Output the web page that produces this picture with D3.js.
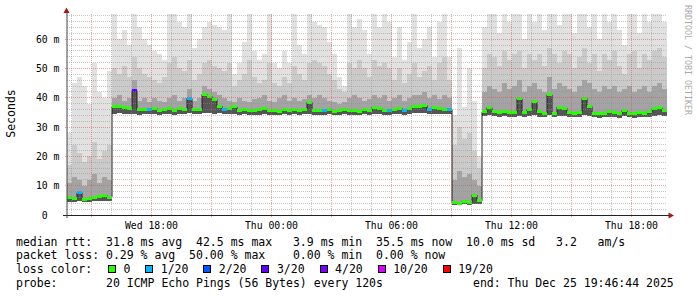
<!DOCTYPE html>
<html>
<head>
<meta charset="utf-8">
<script src="https://cdn.jsdelivr.net/npm/d3@7"></script>
<style>
html, body { margin: 0; padding: 0; background: #fff; }
svg { display: block; }
text { font-family: "DejaVu Sans Mono", monospace; }
</style>
</head>
<body>
<script>
// smokeping graph, 30 hours, one column = 15 minutes
const endTime = Date.UTC(2025, 11, 25, 19, 46, 44);
const spanMs = 30 * 3600 * 1000;
const stepMs = 15 * 60 * 1000;

// median rtt per column (ms)
const median = [
  6.0, 5.6, 7.6, 5.4, 5.7, 5.9, 6.3, 6.7, 6.1, 37.0,
  37.2, 36.6, 36.2, 42.5, 36.0, 35.9, 36.1, 36.4, 35.8, 36.0,
  36.3, 35.7, 36.2, 35.9, 39.8, 36.1, 36.0, 41.2, 40.5, 39.4,
  37.2, 36.0, 36.4, 36.9, 35.8, 36.0, 35.6, 35.5, 35.9, 36.2,
  35.6, 35.8, 35.4, 35.9, 35.6, 36.0, 35.5, 36.1, 38.4, 35.7,
  35.5, 35.6, 35.9, 35.4, 35.8, 36.0, 35.6, 35.7, 35.4, 35.9,
  35.6, 36.7, 36.3, 35.7, 35.6, 35.9, 36.5, 35.6, 36.2, 36.9,
  37.2, 37.4, 35.9, 36.6, 36.3, 35.9, 36.0, 4.3, 3.9, 4.6,
  4.4, 6.8, 4.8, 35.2, 36.6, 35.3, 35.0, 35.4, 34.9, 35.1,
  39.6, 35.0, 36.0, 38.6, 35.2, 34.8, 41.0, 34.6, 36.8, 36.4,
  35.0, 34.7, 35.0, 39.7, 37.0, 34.8, 34.5, 34.6, 35.2, 34.9,
  34.5, 35.6, 34.7, 34.6, 35.0, 34.6, 35.2, 36.2, 36.6, 35.5
];
// lost pings out of 20 per column
const loss = [
  0, 0, 1, 0, 0, 0, 0, 0, 0, 0,
  0, 0, 0, 3, 0, 0, 1, 0, 0, 0,
  0, 0, 0, 0, 1, 0, 0, 0, 0, 0,
  0, 1, 0, 0, 0, 0, 0, 0, 0, 0,
  0, 0, 0, 0, 0, 0, 0, 0, 0, 0,
  0, 1, 0, 0, 0, 0, 0, 0, 0, 0,
  0, 0, 0, 0, 1, 0, 0, 1, 0, 0,
  0, 0, 1, 0, 0, 0, 1, 0, 0, 0,
  0, 0, 0, 0, 0, 0, 0, 0, 0, 0,
  0, 0, 0, 0, 0, 0, 0, 0, 0, 0,
  0, 0, 0, 0, 0, 0, 0, 0, 0, 0,
  0, 0, 0, 0, 0, 0, 0, 0, 0, 0
];
// smoke: fastest ping, upper quartile, 90th pct, slowest ping (ms)
const pingMin = [
  4.6, 4.5, 4.8, 4.4, 4.5, 4.7, 4.8, 4.9, 4.7, 34.6,
  34.8, 34.5, 34.4, 34.6, 34.3, 34.4, 34.5, 34.6, 34.3, 34.4,
  34.6, 34.3, 34.5, 34.4, 34.7, 34.5, 34.4, 34.9, 34.8, 34.6,
  34.7, 34.4, 34.5, 34.6, 34.3, 34.4, 34.2, 34.2, 34.3, 34.5,
  34.2, 34.3, 34.1, 34.4, 34.2, 34.4, 34.2, 34.5, 34.6, 34.3,
  34.2, 34.2, 34.4, 34.1, 34.3, 34.4, 34.2, 34.3, 34.1, 34.4,
  34.2, 34.6, 34.5, 34.3, 34.2, 34.4, 34.6, 34.2, 34.5, 34.7,
  34.8, 34.9, 34.4, 34.6, 34.5, 34.4, 34.4, 3.5, 3.3, 3.6,
  3.5, 3.7, 3.6, 33.8, 34.1, 33.8, 33.6, 33.8, 33.5, 33.6,
  33.9, 33.5, 33.8, 34.0, 33.6, 33.4, 34.1, 33.3, 33.9, 33.8,
  33.5, 33.3, 33.5, 34.0, 33.8, 33.4, 33.2, 33.3, 33.6, 33.5,
  33.2, 33.7, 33.3, 33.2, 33.5, 33.3, 33.6, 33.9, 34.0, 33.7
];
const pingQ3 = [
  11, 13, 12, 10, 12, 14, 11, 13, 12, 40,
  41, 39, 40, 46, 39, 40, 38.5, 40, 39, 38.5,
  40, 41, 39, 40, 43, 39, 40, 44, 43, 42,
  41, 40, 39, 38.5, 40, 39, 38.5, 39.5, 40, 41,
  39, 38.5, 40, 41, 39, 40, 39, 39.5, 41, 40,
  41, 40, 39, 38.5, 38, 38.5, 40, 41, 40, 39,
  39.5, 41, 40, 41, 39, 40, 41, 39, 40, 41,
  41, 42, 40, 41, 39.5, 41, 40, 12, 15, 13,
  14, 12, 10, 42, 44, 43, 42, 45, 43, 44,
  46, 42, 44, 45, 43, 42, 47, 43, 45, 44,
  43, 42, 44, 46, 45, 43, 42, 44, 43, 44,
  42, 43, 44, 42, 43, 44, 42, 44, 45, 43
];
const pingP90 = [
  17, 24, 21, 18, 20, 25, 19, 22, 24, 50,
  48, 51, 47, 54, 50, 48, 47, 46, 45, 47,
  52, 54, 50, 49, 53, 46, 48, 52, 53, 51,
  50, 49, 52, 44, 46, 48, 53, 47, 45, 46,
  52, 45, 44, 47, 45, 51, 48, 46, 52, 53,
  52, 51, 48, 46, 43, 42, 52, 50, 53, 50,
  47, 53, 51, 52, 50, 46, 50, 45, 48, 52,
  47, 49, 51, 46, 52, 54, 46, 24, 30, 26,
  28, 22, 16, 50, 55, 54, 51, 56, 53, 55,
  56, 50, 55, 53, 55, 51, 57, 55, 52, 56,
  55, 50, 54, 57, 52, 55, 49, 55, 53, 56,
  51, 48, 55, 56, 50, 55, 53, 56, 57, 54
];
const pingMax = [
  28, 45, 47, 44, 38, 52, 42, 40, 49, 74,
  60, 63, 58, 75, 64, 60, 58, 56, 55, 53,
  72, 76, 66, 64, 78, 57, 60, 64, 66, 65,
  64, 63, 73, 48, 52, 59, 71, 56, 53, 55,
  74, 52, 50, 56, 52, 77, 58, 55, 72, 66,
  65, 64, 59, 55, 47, 44, 75, 64, 67, 63,
  55, 73, 64, 79, 66, 54, 64, 53, 59, 71,
  57, 60, 64, 54, 66, 74, 54, 34, 57, 37,
  50, 39, 20, 64, 76, 72, 62, 78, 66, 73,
  75, 60, 71, 66, 77, 63, 74, 72, 65, 76,
  73, 62, 75, 79, 64, 72, 60, 74, 66, 77,
  63, 58, 71, 75, 62, 78, 66, 73, 76, 66
];

const yTicks = [0, 10, 20, 30, 40, 50, 60];
const lossLabels = ["0", "1/20", "2/20", "3/20", "4/20", "10/20", "19/20"];
const lossLimits = [0, 1, 2, 3, 4, 10, 19];
const lossColors = ["#26ff00", "#00b8ff", "#0059ff", "#5e00ff", "#7e00ff", "#dd00ff", "#ff0000"];
const legendLines = [
  "median rtt:  31.8 ms avg  42.5 ms max   3.9 ms min  35.5 ms now  10.0 ms sd   3.2   am/s",
  "packet loss: 0.29 % avg  50.00 % max    0.00 % min  0.00 % now",
  "loss color:",
  "probe:       20 ICMP Echo Pings (56 Bytes) every 120s             end: Thu Dec 25 19:46:44 2025"
];

const Width = 697, Height = 297;
const plotL = 67, plotR = 667, plotT = 14, plotB = 215;
const cw = 6.95; // legend char width

const svg = d3.select("body").append("svg")
  .attr("width", Width).attr("height", Height);

const startTime = endTime - spanMs;
const x = d3.scaleUtc().domain([new Date(startTime), new Date(endTime)]).range([plotL, plotR]);
const y = d3.scaleLinear().domain([0, 68.6]).range([plotB, plotT]);
const colTime = i => new Date(startTime + i * stepMs);

svg.append("clipPath").attr("id", "plotClip")
  .append("rect").attr("x", plotL).attr("y", plotT)
  .attr("width", plotR - plotL).attr("height", plotB - plotT);

const plot = svg.append("g").attr("clip-path", "url(#plotClip)");

// smoke layers, outer first
const layers = [
  { top: pingMax, fill: "#e1e1e1" },
  { top: pingP90, fill: "#cacaca" },
  { top: pingQ3, fill: "#a3a3a3" },
  { top: median, fill: "#555555" }
];
layers.forEach(layer => {
  plot.append("g").attr("shape-rendering", "crispEdges")
    .selectAll("rect").data(layer.top).enter().append("rect")
    .attr("x", (d, i) => x(colTime(i)))
    .attr("width", (d, i) => x(colTime(i + 1)) - x(colTime(i)))
    .attr("y", d => y(d))
    .attr("height", (d, i) => y(pingMin[i]) - y(d))
    .attr("fill", layer.fill);
});

// median line
const medPts = median.map((d, i) => [colTime(i), d]);
medPts.push([colTime(median.length), median[median.length - 1]]);
plot.append("path")
  .attr("d", d3.line().x(d => x(d[0])).y(d => y(d[1])).curve(d3.curveStepAfter)(medPts))
  .attr("fill", "none").attr("stroke", "#202020").attr("stroke-width", 1);

// loss coloured boxes on the median
const lossIdx = l => lossLimits.findIndex((v, k) => l <= v && (k === 0 || l > lossLimits[k - 1]));
plot.append("g").attr("shape-rendering", "crispEdges")
  .selectAll("rect").data(median).enter().append("rect")
  .attr("x", (d, i) => x(colTime(i)))
  .attr("width", (d, i) => x(colTime(i + 1)) - x(colTime(i)))
  .attr("y", d => y(d) - 1.5)
  .attr("height", 3)
  .attr("fill", (d, i) => lossColors[lossIdx(loss[i])]);

// grid on top
const grid = svg.append("g").attr("shape-rendering", "crispEdges");
const minorY = d3.range(2, 68.6, 2).filter(v => v % 10 !== 0);
grid.selectAll(".minorY").data(minorY).enter().append("line")
  .attr("x1", plotL).attr("x2", plotR)
  .attr("y1", d => Math.floor(y(d)) + 0.5).attr("y2", d => Math.floor(y(d)) + 0.5)
  .attr("stroke", "rgba(143,143,143,0.5)").attr("stroke-dasharray", "1,1");
const hours = x.ticks(d3.utcHour.every(1)).filter(t => t.getUTCHours() % 3 !== 0);
grid.selectAll(".minorX").data(hours).enter().append("line")
  .attr("x1", d => Math.floor(x(d)) + 0.5).attr("x2", d => Math.floor(x(d)) + 0.5)
  .attr("y1", plotT).attr("y2", plotB)
  .attr("stroke", "rgba(143,143,143,0.5)").attr("stroke-dasharray", "1,1");
grid.selectAll(".majorY").data(yTicks.filter(d => d > 0)).enter().append("line")
  .attr("x1", plotL - 2).attr("x2", plotR)
  .attr("y1", d => Math.floor(y(d)) + 0.5).attr("y2", d => Math.floor(y(d)) + 0.5)
  .attr("stroke", "rgba(224,80,80,0.55)").attr("stroke-dasharray", "1,1");
const majorHours = x.ticks(d3.utcHour.every(3));
grid.selectAll(".majorX").data(majorHours).enter().append("line")
  .attr("x1", d => Math.floor(x(d)) + 0.5).attr("x2", d => Math.floor(x(d)) + 0.5)
  .attr("y1", plotT).attr("y2", plotB + 2)
  .attr("stroke", "rgba(224,80,80,0.55)").attr("stroke-dasharray", "1,1");

// axes
const axis = svg.append("g").attr("shape-rendering", "crispEdges");
axis.append("line").attr("x1", 63).attr("x2", 669).attr("y1", plotB + 0.5).attr("y2", plotB + 0.5)
  .attr("stroke", "#222");
axis.append("line").attr("x1", plotL).attr("x2", plotL).attr("y1", 218).attr("y2", 12)
  .attr("stroke", "#444").attr("shape-rendering", "auto");
svg.append("path").attr("d", "M63.5,13 L66.5,7.5 L69.5,13 Z").attr("fill", "#a01818");
svg.append("path").attr("d", "M668.5,212.5 L674,215.5 L668.5,218.5 Z").attr("fill", "#a01818");

// y labels
svg.selectAll(".ylab").data(yTicks).enter().append("text")
  .attr("x", 59.5).attr("y", d => y(d) + 3.5)
  .attr("text-anchor", "end").attr("font-size", "9.8px").attr("fill", "#000")
  .text(d => d === 0 ? "0\u00a0\u00a0" : d + " m");

// x labels
const labelTimes = x.ticks(d3.utcHour.every(6));
const fmt = d3.utcFormat("%a %H:%M");
svg.selectAll(".xlab").data(labelTimes).enter().append("text")
  .attr("x", d => x(d)).attr("y", 228.5)
  .attr("text-anchor", "middle").attr("font-size", "9.8px").attr("fill", "#000")
  .text(d => fmt(d));

// vertical title
svg.append("text")
  .attr("transform", "translate(15,113.5) rotate(-90)")
  .attr("text-anchor", "middle").attr("font-size", "11.5px").attr("fill", "#000")
  .text("Seconds");

// watermark
svg.append("text")
  .attr("transform", "translate(684.5,60) rotate(90)")
  .attr("text-anchor", "middle").attr("font-size", "8.3px").attr("fill", "#aaaaaa")
  .text("RRDTOOL / TOBI OETIKER");

// legend
const legY = [245.5, 259.2, 272.9, 286.6];
legendLines.forEach((line, i) => {
  svg.append("text").attr("x", 16).attr("y", legY[i])
    .attr("xml:space", "preserve").style("white-space", "pre")
    .attr("font-size", "11.5px").attr("fill", "#000")
    .text(line);
});
let lx = 108.5;
lossLabels.forEach((lab, i) => {
  svg.append("rect").attr("x", lx).attr("y", legY[2] - 7.5)
    .attr("width", 7).attr("height", 7)
    .attr("fill", lossColors[i]).attr("stroke", "#000").attr("stroke-width", 1)
    .attr("shape-rendering", "crispEdges");
  svg.append("text").attr("x", lx + 15).attr("y", legY[2])
    .attr("font-size", "11.5px").attr("fill", "#000").text(lab);
  lx += 16.4 + cw * (lab.length + 2);
});
</script>
</body>
</html>
